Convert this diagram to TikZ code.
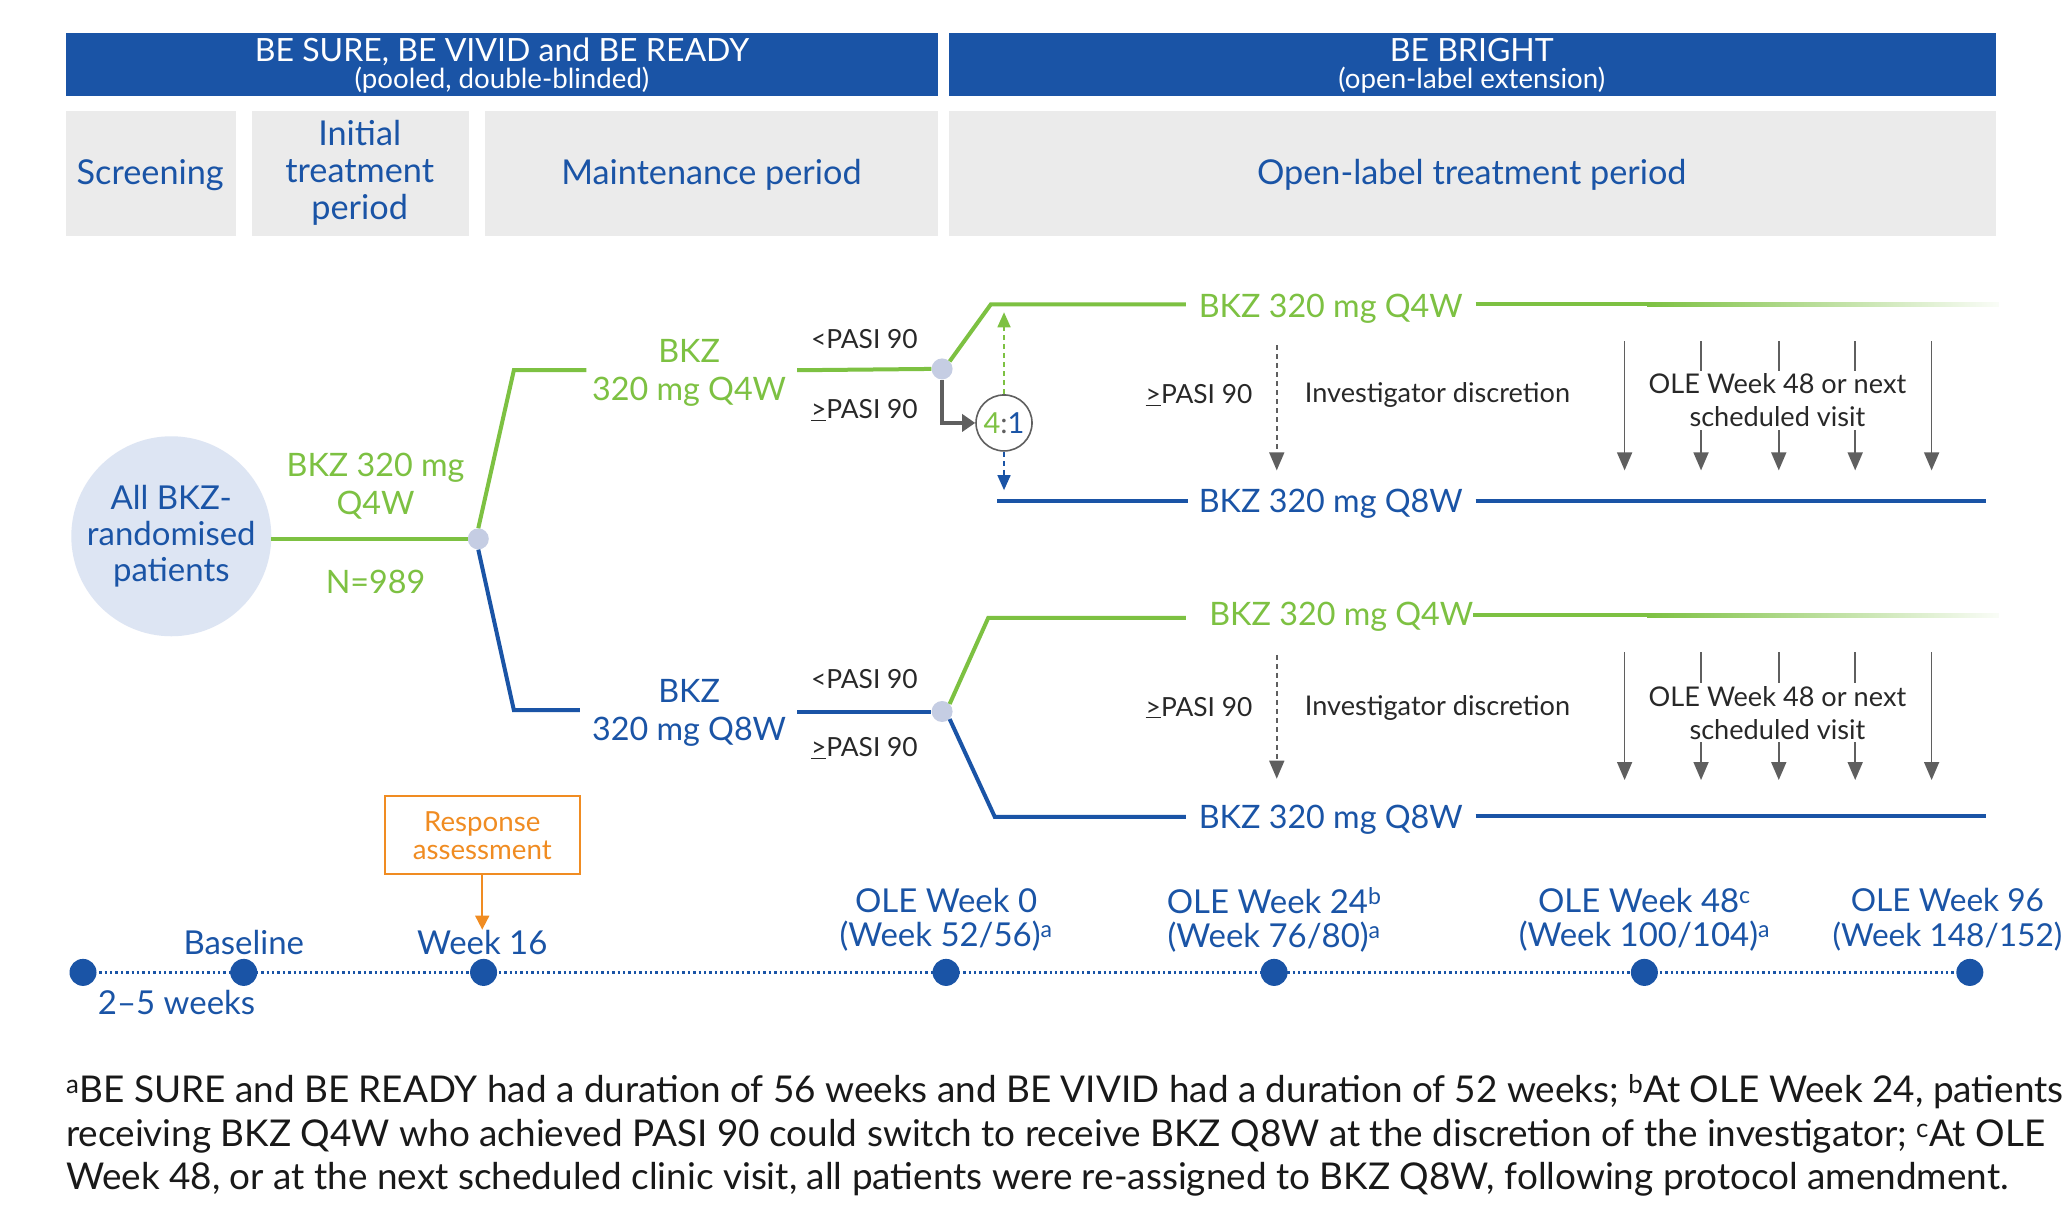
\documentclass[tikz,border=0pt]{standalone}
\usepackage{fontspec}
\setmainfont{Lato}
\usetikzlibrary{arrows.meta,calc}
\definecolor{bblue}{RGB}{26,84,166}
\definecolor{bgreen}{RGB}{125,193,66}
\definecolor{boxgray}{RGB}{235,235,235}
\definecolor{circfill}{RGB}{221,229,243}
\definecolor{dotfill}{RGB}{197,205,227}
\definecolor{orng}{RGB}{240,140,34}
\definecolor{agray}{RGB}{95,95,95}
\definecolor{tdark}{RGB}{40,40,40}
\definecolor{fnblack}{RGB}{25,25,25}
\newcommand{\fsz}[2]{\fontsize{\fpeval{#1*1.3176}pt}{\fpeval{#2*1.3176}pt}\selectfont}
\tikzset{
  lbl/.style={inner sep=0pt, align=center},
  hdrtxt/.style={lbl, text=white},
  cattxt/.style={lbl, text=bblue, font=\fsz{26}{28}},
  gtxt/.style={lbl, text=bgreen, font=\fsz{24.5}{29}},
  btxt/.style={lbl, text=bblue, font=\fsz{24.5}{29}},
  pasi/.style={lbl, text=tdark, font=\fsz{20}{24}},
  small/.style={lbl, text=tdark, font=\fsz{20.6}{25}},
  gline/.style={draw=bgreen, line width=4pt},
  bline/.style={draw=bblue, line width=4pt},
  bdot/.style={circle, fill=dotfill, minimum size=21pt, inner sep=0pt},
  garrow/.style={draw=agray, line width=1.6pt, -{Triangle[length=18pt,width=15pt]}},
  dsharrow/.style={line width=1.6pt, dash pattern=on 5pt off 4pt},
  tltxt/.style={lbl, text=bblue, font=\fsz{25}{26}},
  fntxt/.style={lbl, anchor=base west, text=fnblack, font=\fsz{28}{33}},
}
\begin{document}
\begin{tikzpicture}[x=1.3176pt,y=-1.3176pt]
\useasboundingbox (0,0) rectangle (1568,918);
\fill[white] (0,0) rectangle (1568,918);

% headers
\fill[bblue] (50,25) rectangle (712,73);
\fill[bblue] (720,25) rectangle (1515,73);
\node[hdrtxt, anchor=base, font=\fsz{24.3}{26}] (h1a) at (381,47) {BE SURE, BE VIVID and BE READY};
\node[hdrtxt, anchor=base, font=\fsz{21}{22}] (h1b) at (381,67) {(pooled, double-blinded)};
\node[hdrtxt, anchor=base, font=\fsz{24.3}{26}] (h2a) at (1117,47) {BE BRIGHT};
\node[hdrtxt, anchor=base, font=\fsz{21}{22}] (h2b) at (1117,67) {(open-label extension)};

% period boxes
\fill[boxgray] (50,84) rectangle (179,179);
\fill[boxgray] (191,84) rectangle (356,179);
\fill[boxgray] (368,84) rectangle (712,179);
\fill[boxgray] (720,84) rectangle (1515,179);
\node[cattxt] (p1) at (114,133) {Screening};
\node[cattxt] (p2) at (273,131) {Initial\\treatment\\period};
\node[cattxt] (p3) at (540,133) {Maintenance period};
\node[cattxt] (p4) at (1117,133) {Open-label treatment period};

% randomisation
\node[circle, fill=circfill, minimum size=200pt, inner sep=0pt, align=center, text=bblue, font=\fsz{25}{27}] (pat) at (130,407) {All BKZ-\\randomised\\patients};
\node[bdot] (d0) at (363,409) {};
\draw[gline] (pat.east |- d0) -- (d0.west);
\node[gtxt] (lq4) at (285,369) {BKZ 320 mg\\Q4W};
\node[gtxt] (ln) at (285,442) {N=989};

% maintenance branches
\coordinate (c1) at (390,281);
\coordinate (c1e) at (445,281);
\coordinate (c1s) at (605,281);
\coordinate (c2) at (390,539);
\coordinate (c2e) at (440,539);
\coordinate (c2s) at (605,540);
\node[bdot] (d1) at (715,280) {};
\node[bdot] (d2) at (715,540) {};
\draw[gline] (d0.north) -- (c1) -- (c1e);
\draw[gline] (c1s) -- (d1.west);
\draw[bline] (d0.south) -- (c2) -- (c2e);
\draw[bline] (c2s) -- (d2.west);
\node[gtxt] (m1) at (523,283) {BKZ\\320 mg Q4W};
\node[btxt] (m2) at (523,541) {BKZ\\320 mg Q8W};
\node[pasi] (pa1) at (656,257) {<PASI 90};
\node[pasi] (pa2) at (656,311) {\underline{>}PASI 90};
\node[pasi] (pa3) at (656,515) {<PASI 90};
\node[pasi] (pa4) at (656,568) {\underline{>}PASI 90};

% upper OLE
\coordinate (u1a) at (752,231);
\coordinate (u1b) at (900,231);
\coordinate (u1c) at (1120,231);
\coordinate (u1d) at (1250,231);
\coordinate (u2a) at (757,380);
\coordinate (u2b) at (902,380);
\coordinate (u2c) at (1120,380);
\coordinate (u2d) at (1507,380);
\draw[gline] (d1.north east) -- (u1a) -- (u1b);
\node[gtxt] (u1) at (1010,234) {BKZ 320 mg Q4W};
\draw[gline] (u1c) -- (u1d);
\shade[left color=bgreen, right color=bgreen!4] (1250,229.5) rectangle (1517,232.5);
\draw[bline] (u2a) -- (u2b);
\node[btxt] (u2) at (1010,382) {BKZ 320 mg Q8W};
\draw[bline] (u2c) -- (u2d);

\node[circle, draw=agray, line width=1.6pt, minimum size=56pt, inner sep=0pt, font=\fsz{22}{24}] (r) at (762,321) {{\color{bgreen}4}{\color{agray}:}{\color{bblue}1}};
\coordinate (elb) at (715,321);
\draw[draw=agray, line width=3.5pt, -{Triangle[length=13pt,width=17pt]}] (d1.south) -- (elb) -- (r.west);
\coordinate (gup) at (762,237);
\coordinate (bdn) at (762,372);
\draw[draw=bgreen, dsharrow, -{Triangle[length=15pt,width=13pt]}] (r.north) -- (gup);
\draw[draw=bblue, dsharrow, -{Triangle[length=15pt,width=13pt]}] (r.south) -- (bdn);

\node[pasi] (ua) at (910,300) {\underline{>}PASI 90};
\coordinate (ud1) at (969,262);
\coordinate (ud2) at (969,357);
\draw[garrow, dash pattern=on 5pt off 4pt] (ud1) -- (ud2);
\node[small] (uinv) at (1091,300) {Investigator discretion};
\foreach \xx/\nm in {1233/a,1291/b,1350/c,1408/d,1466/e}{
  \coordinate (us\nm) at (\xx,259);
  \coordinate (ue\nm) at (\xx,357);
  \draw[garrow] (us\nm) -- (ue\nm);
}
\node[small, fill=white, inner sep=3pt] (uole) at (1349,304) {OLE Week 48 or next\\scheduled visit};

% lower OLE
\coordinate (l1a) at (750,469);
\coordinate (l1b) at (900,469);
\coordinate (l1c) at (1118,467);
\coordinate (l1d) at (1250,467);
\coordinate (l2a) at (755,620);
\coordinate (l2b) at (900,620);
\coordinate (l2c) at (1120,619);
\coordinate (l2d) at (1507,619);
\draw[gline] (d2.north east) -- (l1a) -- (l1b);
\node[gtxt] (l1) at (1018,468) {BKZ 320 mg Q4W};
\draw[gline] (l1c) -- (l1d);
\shade[left color=bgreen, right color=bgreen!4] (1250,465.5) rectangle (1517,468.5);
\draw[bline] (d2.south east) -- (l2a) -- (l2b);
\node[btxt] (l2) at (1010,622) {BKZ 320 mg Q8W};
\draw[bline] (l2c) -- (l2d);

\node[pasi] (la) at (910,537) {\underline{>}PASI 90};
\coordinate (ld1) at (969,497);
\coordinate (ld2) at (969,591);
\draw[garrow, dash pattern=on 5pt off 4pt] (ld1) -- (ld2);
\node[small] (linv) at (1091,537) {Investigator discretion};
\foreach \xx/\nm in {1233/a,1291/b,1350/c,1408/d,1466/e}{
  \coordinate (ls\nm) at (\xx,495);
  \coordinate (le\nm) at (\xx,592);
  \draw[garrow] (ls\nm) -- (le\nm);
}
\node[small, fill=white, inner sep=3pt] (lole) at (1349,541) {OLE Week 48 or next\\scheduled visit};

% response assessment
\node[draw=orng, line width=1.8pt, minimum width=195pt, minimum height=78pt, align=center, text=orng, font=\fsz{21}{21}, inner sep=0pt] (resp) at (366,634) {Response\\assessment};

% timeline
\coordinate (tl0) at (63,738);
\coordinate (tl6) at (1495,738);
\draw[bblue, line width=3pt, dash pattern=on 2.4pt off 3pt] (tl0) -- (tl6);
\foreach \xx/\nm in {63/t0,185/t1,367/t2,718/t3,967/t4,1248/t5,1495/t6}{
  \node[circle, fill=bblue, minimum size=27pt, inner sep=0pt] (\nm) at (\xx,738) {};
}

\node[tltxt] (tb) at (185,715) {Baseline};
\node[tltxt] (tw16) at (366,715) {Week 16};
\draw[draw=orng, line width=1.8pt, -{Triangle[length=14pt,width=14pt]}] (resp.south) -- (tw16.north);
\node[tltxt] (t25) at (134,761) {2–5 weeks};
\node[tltxt] (to0) at (718,698) {OLE Week 0\\(Week 52/56)\textsuperscript{a}};
\node[tltxt] (to24) at (967,698) {OLE Week 24\textsuperscript{b}\\(Week 76/80)\textsuperscript{a}};
\node[tltxt] (to48) at (1248,698) {OLE Week 48\textsuperscript{c}\\(Week 100/104)\textsuperscript{a}};
\node[tltxt, font=\fsz{24}{26}] (to96) at (1478,698) {OLE Week 96\\(Week 148/152)};

% footnotes
\node[fntxt] (fn1) at (50,837) {\textsuperscript{a}BE SURE and BE READY had a duration of 56 weeks and BE VIVID had a duration of 52 weeks; \textsuperscript{b}At OLE Week 24, patients};
\node[fntxt] (fn2) at (50,870) {receiving BKZ Q4W who achieved PASI 90 could switch to receive BKZ Q8W at the discretion of the investigator; \textsuperscript{c}At OLE};
\node[fntxt] (fn3) at (50,903) {Week 48, or at the next scheduled clinic visit, all patients were re-assigned to BKZ Q8W, following protocol amendment.};
\end{tikzpicture}
\end{document}
